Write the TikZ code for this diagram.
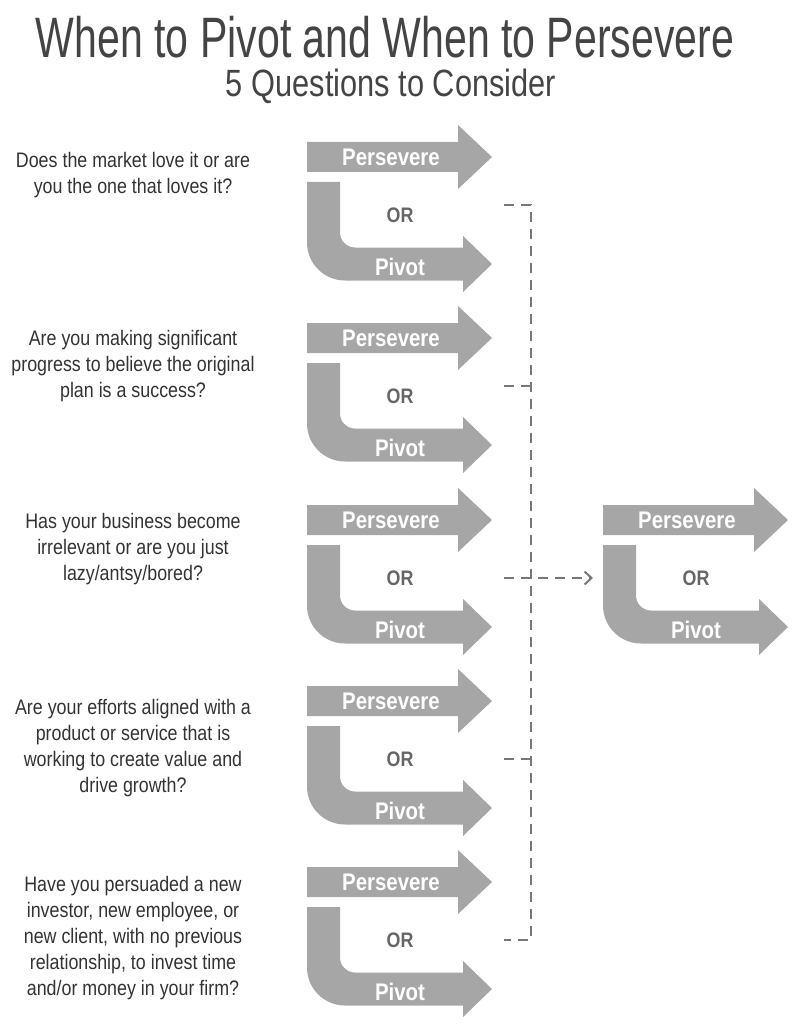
\documentclass[tikz,border=0pt]{standalone}
\usepackage{fontspec}
\setmainfont{Liberation Sans}[FakeStretch=0.85]
\newfontfamily\titlefont{Liberation Sans}[FakeStretch=0.72]
\newfontfamily\subtitlefont{Liberation Sans}[FakeStretch=0.81]
\usetikzlibrary{arrows.meta}
\definecolor{bargray}{HTML}{A6A6A6}
\definecolor{textgray}{HTML}{333333}
\definecolor{orgray}{HTML}{666666}
\definecolor{dashgray}{HTML}{777777}
\definecolor{titlegray}{HTML}{444444}

\tikzset{
  bar/.style={fill=bargray},
  barlabel/.style={text=white, font=\bfseries\fontsize{24}{24}\selectfont, inner sep=0},
  orlabel/.style={text=orgray, font=\bfseries\fontsize{21}{21}\selectfont, inner sep=0},
  question/.style={text=textgray, font=\fontsize{21}{26}\selectfont, align=center, inner sep=0, anchor=north},
  heading/.style={text=titlegray, inner sep=0},
  bracket/.style={draw=dashgray, line width=2pt, dash pattern=on 10pt off 7pt},
  % persevere arrow on top, bent pivot arrow below
  choice/.pic={
    \fill[bar] (0,-15) -- (151,-15) -- (151,-32) -- (185,0) -- (151,32) -- (151,15) -- (0,15) -- cycle;
    \fill[bar] (0,25) -- (0,85.5) arc[start angle=180, end angle=90, radius=38]
      -- (156,123.5) -- (156,135) -- (185,107) -- (156,79) -- (156,90.5) -- (48,90.5)
      arc[start angle=90, end angle=180, radius=15] -- (33,25) -- cycle;
    \node[barlabel] (-per) at (84,0) {Persevere};
    \node[orlabel] (-or) at (93,58) {OR};
    \node[barlabel] (-piv) at (93,110) {Pivot};
    \coordinate (-in) at (-10,58);
  }
}

\begin{document}
\begin{tikzpicture}[x=1pt, y=-1pt]
  \useasboundingbox (0,0) rectangle (798,1024);

  \node[heading, font=\titlefont\fontsize{57}{57}\selectfont] (title) at (385,37) {When to Pivot and When to Persevere};
  \node[heading, font=\subtitlefont\fontsize{38}{38}\selectfont] (subtitle) at (391,86) {5 Questions to Consider};

  \foreach \i/\y in {1/157, 2/338, 3/520, 4/701, 5/882}
    \pic (b\i) at (307,\y) {choice};
  \pic (r) at (603,520) {choice};

  \node[question] (q1) at (133,152) {Does the market love it or are\\you the one that loves it?};
  \node[question] (q2) at (133,330) {Are you making significant\\progress to believe the original\\plan is a success?};
  \node[question] (q3) at (133,513) {Has your business become\\irrelevant or are you just\\lazy/antsy/bored?};
  \node[question] (q4) at (133,699) {Are your efforts aligned with a\\product or service that is\\working to create value and\\drive growth?};
  \node[question] (q5) at (133,876) {Have you persuaded a new\\investor, new employee, or\\new client, with no previous\\relationship, to invest time\\and/or money in your firm?};

  % dashed bracket
  \coordinate (s1) at (504,205);
  \coordinate (s2) at (504,386);
  \coordinate (s3) at (504,578);
  \coordinate (s4) at (504,759);
  \coordinate (s5) at (504,940);
  \coordinate (c1) at (531,205);
  \coordinate (c5) at (531,940);
  \draw[bracket] (s1) -- (c1) -- (c5) -- (s5);
  \draw[bracket] (s2) -- (s2 -| c1);
  \draw[bracket] (s4) -- (s4 -| c1);
  \draw[bracket, -{Straight Barb[length=7pt, width=13pt]}] (s3) -- (r-in);
\end{tikzpicture}
\end{document}
